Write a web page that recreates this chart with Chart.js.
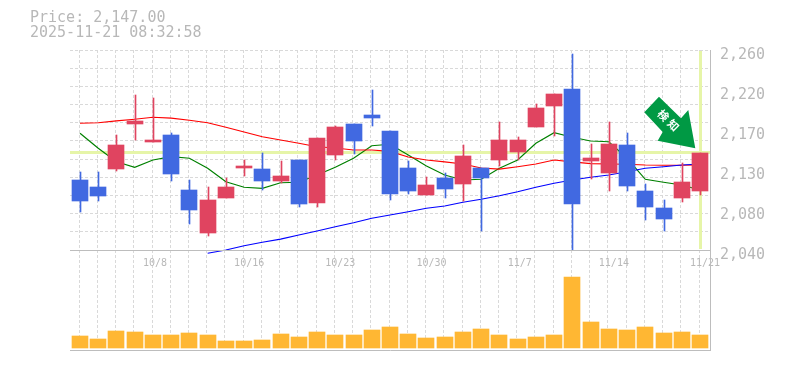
<!DOCTYPE html>
<html>
<head>
<meta charset="utf-8">
<style>
  html, body { margin: 0; padding: 0; background: #fff; }
  canvas { display: block; }
</style>
<script src="https://cdn.jsdelivr.net/npm/chart.js@4/dist/chart.umd.min.js"></script>
</head>
<body>
<canvas id="chart" width="785" height="370"></canvas>
<script>
const priceText = 'Price: 2,147.00';
const timeText = '2025-11-21 08:32:58';
const lastPrice = 2147;
const markText = '検知';

const opens = [2117, 2109, 2129, 2179, 2159, 2166.5, 2106, 2059, 2097, 2130, 2129, 2116, 2139, 2092, 2145, 2179, 2188.5, 2171, 2130, 2100.5, 2119, 2113, 2130, 2139, 2148, 2175, 2198, 2217, 2138, 2125, 2155.5, 2105, 2086, 2097, 2105];
const highs = [2126, 2126, 2166.5, 2210.5, 2207, 2168.7, 2117, 2109, 2119, 2139, 2147, 2138, 2139, 2163, 2176, 2179, 2216, 2171, 2138, 2120, 2125, 2155.5, 2130, 2181, 2164, 2201, 2212, 2256, 2157, 2181, 2169, 2113, 2095, 2136, 2147];
const lows = [2082, 2094, 2127, 2161, 2159, 2116, 2068.6, 2055, 2097, 2121, 2106, 2114, 2087, 2087, 2139, 2146, 2176, 2095, 2102, 2100.5, 2097, 2094, 2061, 2132, 2139, 2175, 2165, 2040, 2118, 2105, 2105, 2073, 2061, 2093, 2100];
const closes = [2094, 2099, 2155.5, 2182, 2161, 2123.6, 2084, 2095, 2109, 2132, 2116, 2121, 2091, 2163, 2175, 2160, 2185, 2102, 2105, 2111.5, 2107, 2143, 2119, 2161, 2161, 2196, 2212, 2091, 2141, 2157, 2110, 2087, 2074, 2115, 2147];
const volumes = [12, 9, 17, 16, 13, 13, 15, 13, 7, 7, 8, 14, 11, 16, 13, 13, 18, 21, 14, 10, 11, 16, 19, 13, 9, 11, 13, 71, 26, 19, 18, 21, 15, 16, 13];
const maShort = [2168.4, 2151.9, 2137.1, 2131, 2139, 2142.6, 2140.9, 2129.9, 2115.1, 2109, 2107.9, 2114, 2114.5, 2122.5, 2131, 2140.9, 2154.7, 2156.3, 2144.5, 2132.4, 2122.5, 2117, 2117.8, 2129.9, 2139, 2157.4, 2169, 2164, 2159.9, 2159.1, 2140.9, 2117.8, 2114.5, 2111.5, 2106];
const maMid = [2179.4, 2180, 2182, 2183.8, 2186, 2185, 2182.7, 2180, 2175, 2169.8, 2164.6, 2161, 2157.4, 2153.6, 2152.2, 2150, 2150, 2148.4, 2142.3, 2139, 2137, 2134.6, 2130.2, 2129, 2131.6, 2134.6, 2139, 2137, 2135, 2134.6, 2134.3, 2133.5, 2133.2, 2133.2, 2133.5];
const maLong = [null, null, null, null, null, null, null, 2036.4, 2040, 2044.7, 2048.5, 2052, 2056.5, 2060.9, 2065.6, 2070, 2074.9, 2078.5, 2082.1, 2085.9, 2088.4, 2092.5, 2095.8, 2099.7, 2104.1, 2109, 2113.4, 2117, 2120, 2122.5, 2126.1, 2129.9, 2131.6, 2133.5, 2134.6];
const dateLabels = {4: '10/8', 9: '10/16', 14: '10/23', 19: '10/30', 24: '11/7', 29: '11/14', 34: '11/21'};
const priceTicks = [2260, 2216, 2172, 2128, 2084, 2040];
const priceTickLabels = ['2,260', '2,220', '2,170', '2,130', '2,080', '2,040'];
const priceGrid = [2040, 2060, 2080, 2100, 2120, 2140, 2160, 2180, 2200, 2220, 2240, 2260];

const UP = '#e04460';
const DOWN = '#4169e1';
const GRID = '#d9d9d9';
const AXIS = '#bdbdbd';
const TEXT = '#b8b8b8';
const HILITE = '#e6f5a8';
const MONO = '"DejaVu Sans Mono", monospace';

const barColors = closes.map((c, i) => c >= opens[i] ? UP : DOWN);
const points = arr => arr.map((v, i) => ({x: i, y: v}));

// 18.235px for one candle, first candle sits 10px in from the plot edge
const xMin = -10 / 18.235;
const xMax = xMin + 640 / 18.235;

// keeps the candles on whole pixels so the edges stay sharp
const snapBars = {
    id: 'snapBars',
    afterDatasetsUpdate(chart) {
        chart.data.datasets.forEach((ds, n) => {
            if (ds.type !== 'bar') return;
            const half = ds.barThickness % 2 ? 0.5 : 0;
            chart.getDatasetMeta(n).data.forEach(el => {
                el.x = Math.round(el.x) + half;
                el.y = Math.round(el.y);
                el.base = Math.round(el.base);
            });
        });
    }
};

const highlight = {
    id: 'highlight',
    beforeDatasetsDraw(chart) {
        const {ctx, chartArea: a, scales: {x, y}} = chart;
        const py = Math.floor(y.getPixelForValue(lastPrice)) + 0.5;
        const px = Math.round(x.getPixelForValue(closes.length - 1)) + 0.5;
        ctx.save();
        ctx.strokeStyle = HILITE;
        ctx.lineWidth = 3;
        ctx.beginPath();
        ctx.moveTo(a.left, py);
        ctx.lineTo(a.right, py);
        ctx.moveTo(px, y.getPixelForValue(2260) + 1);
        ctx.lineTo(px, y.getPixelForValue(2040) - 1);
        ctx.stroke();
        ctx.restore();
    }
};

const frame = {
    id: 'frame',
    afterDatasetsDraw(chart) {
        const {ctx, chartArea: a, scales: {y}} = chart;
        const mid = Math.round(y.getPixelForValue(2040)) + 0.5;
        ctx.save();
        ctx.strokeStyle = AXIS;
        ctx.lineWidth = 1;
        ctx.beginPath();
        ctx.moveTo(a.left, mid);
        ctx.lineTo(a.right + 1, mid);
        ctx.moveTo(a.left, a.bottom + 0.5);
        ctx.lineTo(a.right + 1, a.bottom + 0.5);
        ctx.moveTo(a.right + 0.5, a.top);
        ctx.lineTo(a.right + 0.5, a.bottom);
        ctx.stroke();
        ctx.restore();
    }
};

// green arrow pointing at the last candle, plus the two header lines
const overlay = {
    id: 'overlay',
    afterDraw(chart) {
        const {ctx, scales: {x, y}} = chart;
        const tipX = x.getPixelForValue(closes.length - 1) - 4.7;
        const tipY = y.getPixelForValue(lastPrice) - 4.4;
        const arrow = [[-36.3, -51.6], [-51, -36], [-32.6, -16.3], [-37.6, -7.6], [0, 0], [-7, -38.3], [-14.3, -30]];
        ctx.save();
        ctx.fillStyle = '#009944';
        ctx.beginPath();
        arrow.forEach(([dx, dy], i) => {
            if (i === 0) ctx.moveTo(tipX + dx, tipY + dy);
            else ctx.lineTo(tipX + dx, tipY + dy);
        });
        ctx.closePath();
        ctx.fill();

        ctx.translate(tipX - 27, tipY - 28);
        ctx.rotate(Math.PI / 4);
        ctx.fillStyle = '#fff';
        ctx.font = 'bold 11px "Noto Sans CJK JP"';
        ctx.textAlign = 'center';
        ctx.textBaseline = 'middle';
        ctx.fillText(markText[0], -7, 0);
        ctx.fillText(markText[1], 7, 0);
        ctx.restore();

        ctx.save();
        ctx.fillStyle = TEXT;
        ctx.font = '15px ' + MONO;
        ctx.textBaseline = 'middle';
        ctx.fillText(priceText, 30, 18);
        ctx.fillText(timeText, 30, 33);
        ctx.restore();
    }
};

new Chart(document.getElementById('chart').getContext('2d'), {
    data: {
        datasets: [
            {type: 'line', data: points(maShort), borderColor: '#008000', borderWidth: 1.2, pointRadius: 0, yAxisID: 'y', order: 5},
            {type: 'line', data: points(maMid), borderColor: '#ff0000', borderWidth: 1.2, pointRadius: 0, yAxisID: 'y', order: 4},
            {type: 'line', data: points(maLong), borderColor: '#0000ff', borderWidth: 1.2, pointRadius: 0, yAxisID: 'y', order: 3, clip: false},
            {type: 'bar', data: points(highs.map((h, i) => [lows[i], h])), backgroundColor: barColors, barThickness: 1, grouped: false, yAxisID: 'y', order: 2},
            {type: 'bar', data: points(opens.map((o, i) => [o, closes[i]])), backgroundColor: barColors, barThickness: 16, grouped: false, yAxisID: 'y', order: 1},
            {type: 'bar', data: points(volumes), backgroundColor: '#ffb733', barThickness: 16, grouped: false, yAxisID: 'yv', order: 1}
        ]
    },
    options: {
        responsive: false,
        animation: false,
        events: [],
        layout: {padding: {left: 70, top: 50, right: 0, bottom: 20}},
        plugins: {legend: {display: false}, tooltip: {enabled: false}},
        scales: {
            x: {
                type: 'linear',
                position: {y: 2040},
                offset: false,
                min: xMin,
                max: xMax,
                afterBuildTicks(scale) {
                    scale.ticks = closes.map((c, k) => ({value: xMin + k}));
                    scale.ticks.push({value: xMin + closes.length});
                },
                afterFit(scale) { scale.height = 0; },
                border: {display: false, dash: [3, 2]},
                grid: {color: GRID, drawTicks: false},
                ticks: {
                    autoSkip: false,
                    maxRotation: 0,
                    align: 'start',
                    padding: 7,
                    color: TEXT,
                    font: {family: MONO, size: 10},
                    callback: (v, i) => dateLabels[i] || ''
                }
            },
            y: {
                type: 'linear',
                position: 'right',
                stack: 'panes',
                stackWeight: 2,
                weight: 1,
                min: 2040,
                max: 2260,
                afterBuildTicks(scale) {
                    scale.ticks = [...new Set([...priceGrid, ...priceTicks])].sort((a, b) => a - b).map(value => ({value}));
                },
                afterFit(scale) { scale.width = 75; },
                border: {display: false, dash: [3, 2]},
                grid: {
                    color: ctx => priceGrid.includes(ctx.tick.value) ? GRID : 'transparent',
                    drawTicks: false
                },
                ticks: {
                    autoSkip: false,
                    padding: 10,
                    labelOffset: 5,
                    color: TEXT,
                    font: {family: MONO, size: 15},
                    callback: v => priceTicks.includes(v) ? priceTickLabels[priceTicks.indexOf(v)] : ''
                }
            },
            yv: {
                type: 'linear',
                position: 'right',
                stack: 'panes',
                stackWeight: 1,
                weight: 2,
                min: -2,
                max: 98,
                afterFit(scale) { scale.width = 75; },
                border: {display: false},
                grid: {display: false},
                ticks: {display: false}
            }
        }
    },
    plugins: [snapBars, highlight, frame, overlay]
});
</script>
</body>
</html>
